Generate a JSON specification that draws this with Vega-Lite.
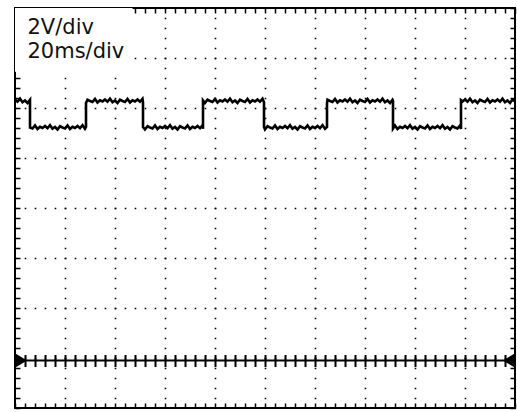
{
  "$schema": "https://vega.github.io/schema/vega-lite/v6.json",
  "width": 500,
  "height": 400,
  "autosize": {"type": "none"},
  "padding": {"left": 15, "top": 8, "right": 2, "bottom": 4},
  "background": "white",
  "config": {
    "view": {"stroke": "#000", "strokeWidth": 2},
    "axis": {"labels": false, "domain": false, "title": null, "tickColor": "#000", "tickWidth": 1.5, "tickCap": "butt", "zindex": 1}
  },
  "datasets": {
    "trace": [
      {"t":0,"v":10.44},{"t":1,"v":10.35},{"t":2,"v":10.47},{"t":3,"v":10.33},{"t":4,"v":10.40},{"t":5,"v":10.30},{"t":6,"v":10.43},
      {"t":6,"v":9.32},{"t":7,"v":9.28},{"t":8,"v":9.40},{"t":9,"v":9.26},{"t":10,"v":9.35},{"t":11,"v":9.30},{"t":12,"v":9.38},{"t":13,"v":9.29},{"t":14,"v":9.41},{"t":15,"v":9.27},{"t":16,"v":9.34},{"t":17,"v":9.24},{"t":18,"v":9.37},{"t":19,"v":9.32},{"t":20,"v":9.28},{"t":21,"v":9.40},{"t":22,"v":9.26},{"t":23,"v":9.35},{"t":24,"v":9.30},{"t":25,"v":9.38},{"t":26,"v":9.29},{"t":27,"v":9.41},{"t":28,"v":9.27},{"t":28.4,"v":9.34},
      {"t":28.4,"v":10.30},{"t":29,"v":10.43},{"t":30,"v":10.38},{"t":31,"v":10.34},{"t":32,"v":10.46},{"t":33,"v":10.32},{"t":34,"v":10.41},{"t":35,"v":10.36},{"t":36,"v":10.44},{"t":37,"v":10.35},{"t":38,"v":10.47},{"t":39,"v":10.33},{"t":40,"v":10.40},{"t":41,"v":10.30},{"t":42,"v":10.43},{"t":43,"v":10.38},{"t":44,"v":10.34},{"t":45,"v":10.46},{"t":46,"v":10.32},{"t":47,"v":10.41},{"t":48,"v":10.36},{"t":49,"v":10.44},{"t":50,"v":10.35},{"t":51,"v":10.47},{"t":51.2,"v":10.33},
      {"t":51.2,"v":9.34},{"t":52,"v":9.24},{"t":53,"v":9.37},{"t":54,"v":9.32},{"t":55,"v":9.28},{"t":56,"v":9.40},{"t":57,"v":9.26},{"t":58,"v":9.35},{"t":59,"v":9.30},{"t":60,"v":9.38},{"t":61,"v":9.29},{"t":62,"v":9.41},{"t":63,"v":9.27},{"t":64,"v":9.34},{"t":65,"v":9.24},{"t":66,"v":9.37},{"t":67,"v":9.32},{"t":68,"v":9.28},{"t":69,"v":9.40},{"t":70,"v":9.26},{"t":71,"v":9.35},{"t":72,"v":9.30},{"t":73,"v":9.38},{"t":74,"v":9.29},{"t":75,"v":9.41},{"t":75.2,"v":9.27},
      {"t":75.2,"v":10.40},{"t":76,"v":10.30},{"t":77,"v":10.43},{"t":78,"v":10.38},{"t":79,"v":10.34},{"t":80,"v":10.46},{"t":81,"v":10.32},{"t":82,"v":10.41},{"t":83,"v":10.36},{"t":84,"v":10.44},{"t":85,"v":10.35},{"t":86,"v":10.47},{"t":87,"v":10.33},{"t":88,"v":10.40},{"t":89,"v":10.30},{"t":90,"v":10.43},{"t":91,"v":10.38},{"t":92,"v":10.34},{"t":93,"v":10.46},{"t":94,"v":10.32},{"t":95,"v":10.41},{"t":96,"v":10.36},{"t":97,"v":10.44},{"t":98,"v":10.35},{"t":99,"v":10.47},{"t":99.6,"v":10.33},
      {"t":99.6,"v":9.34},{"t":100,"v":9.24},{"t":101,"v":9.37},{"t":102,"v":9.32},{"t":103,"v":9.28},{"t":104,"v":9.40},{"t":105,"v":9.26},{"t":106,"v":9.35},{"t":107,"v":9.30},{"t":108,"v":9.38},{"t":109,"v":9.29},{"t":110,"v":9.41},{"t":111,"v":9.27},{"t":112,"v":9.34},{"t":113,"v":9.24},{"t":114,"v":9.37},{"t":115,"v":9.32},{"t":116,"v":9.28},{"t":117,"v":9.40},{"t":118,"v":9.26},{"t":119,"v":9.35},{"t":120,"v":9.30},{"t":121,"v":9.38},{"t":122,"v":9.29},{"t":123,"v":9.41},{"t":124,"v":9.27},{"t":124.8,"v":9.34},
      {"t":124.8,"v":10.30},{"t":125,"v":10.43},{"t":126,"v":10.38},{"t":127,"v":10.34},{"t":128,"v":10.46},{"t":129,"v":10.32},{"t":130,"v":10.41},{"t":131,"v":10.36},{"t":132,"v":10.44},{"t":133,"v":10.35},{"t":134,"v":10.47},{"t":135,"v":10.33},{"t":136,"v":10.40},{"t":137,"v":10.30},{"t":138,"v":10.43},{"t":139,"v":10.38},{"t":140,"v":10.34},{"t":141,"v":10.46},{"t":142,"v":10.32},{"t":143,"v":10.41},{"t":144,"v":10.36},{"t":145,"v":10.44},{"t":146,"v":10.35},{"t":147,"v":10.47},{"t":148,"v":10.33},{"t":149,"v":10.40},{"t":150,"v":10.30},{"t":151,"v":10.43},{"t":151.2,"v":10.38},
      {"t":151.2,"v":9.28},{"t":152,"v":9.40},{"t":153,"v":9.26},{"t":154,"v":9.35},{"t":155,"v":9.30},{"t":156,"v":9.38},{"t":157,"v":9.29},{"t":158,"v":9.41},{"t":159,"v":9.27},{"t":160,"v":9.34},{"t":161,"v":9.24},{"t":162,"v":9.37},{"t":163,"v":9.32},{"t":164,"v":9.28},{"t":165,"v":9.40},{"t":166,"v":9.26},{"t":167,"v":9.35},{"t":168,"v":9.30},{"t":169,"v":9.38},{"t":170,"v":9.29},{"t":171,"v":9.41},{"t":172,"v":9.27},{"t":173,"v":9.34},{"t":174,"v":9.24},{"t":175,"v":9.37},{"t":176,"v":9.32},{"t":177,"v":9.28},{"t":178,"v":9.40},{"t":178.4,"v":9.26},
      {"t":178.4,"v":10.41},{"t":179,"v":10.36},{"t":180,"v":10.44},{"t":181,"v":10.35},{"t":182,"v":10.47},{"t":183,"v":10.33},{"t":184,"v":10.40},{"t":185,"v":10.30},{"t":186,"v":10.43},{"t":187,"v":10.38},{"t":188,"v":10.34},{"t":189,"v":10.46},{"t":190,"v":10.32},{"t":191,"v":10.41},{"t":192,"v":10.36},{"t":193,"v":10.44},{"t":194,"v":10.35},{"t":195,"v":10.47},{"t":196,"v":10.33},{"t":197,"v":10.40},{"t":198,"v":10.30},{"t":199,"v":10.43},{"t":200,"v":10.38}
    ]
  },
  "layer": [
    {
      "data": {"values": [{"t": 0, "t2": 47, "v": 11.55, "v2": 14.1}]},
      "mark": {"type": "rect", "fill": "white", "stroke": null},
      "encoding": {
        "x": {"field": "t", "type": "quantitative", "scale": {"domain": [0, 200], "nice": false, "zero": false},
              "axis": {"orient": "bottom", "grid": true, "ticks": false, "values": [20, 40, 60, 80, 100, 120, 140, 160, 180], "gridColor": "#000", "gridWidth": 1.6, "gridDash": [1.6, 8.4], "gridDashOffset": 0.8, "gridOpacity": 1}},
        "x2": {"field": "t2"},
        "y": {"field": "v", "type": "quantitative", "scale": {"domain": [-1.9, 14.1], "nice": false, "zero": false},
              "axis": {"orient": "left", "grid": true, "ticks": false, "values": [0.1, 2.1, 4.1, 6.1, 8.1, 10.1, 12.1], "gridColor": "#000", "gridWidth": 1.6, "gridDash": [1.6, 8.4], "gridDashOffset": 0.8, "gridOpacity": 1}},
        "y2": {"field": "v2"}
      }
    },
    {
      "data": {"name": "trace"},
      "mark": {"type": "line", "color": "#000", "strokeWidth": 2.6, "interpolate": "linear"},
      "encoding": {
        "x": {"field": "t", "type": "quantitative", "scale": {"domain": [0, 200], "nice": false, "zero": false},
              "axis": {"orient": "top", "offset": -400, "tickSize": 5, "values": [0,4,8,12,16,20,24,28,32,36,40,44,48,52,56,60,64,68,72,76,80,84,88,92,96,100,104,108,112,116,120,124,128,132,136,140,144,148,152,156,160,164,168,172,176,180,184,188,192,196,200]}},
        "y": {"field": "v", "type": "quantitative", "scale": {"domain": [-1.9, 14.1], "nice": false, "zero": false},
              "axis": {"orient": "right", "offset": -500, "tickSize": 5, "values": [-1.9,-1.5,-1.1,-0.7,-0.3,0.1,0.5,0.9,1.3,1.7,2.1,2.5,2.9,3.3,3.7,4.1,4.5,4.9,5.3,5.7,6.1,6.5,6.9,7.3,7.7,8.1,8.5,8.9,9.3,9.7,10.1,10.5,10.9,11.3,11.7,12.1,12.5,12.9,13.3,13.7,14.1]}}
      }
    },
    {
      "data": {"values": [{"t": 0, "t2": 200, "v": 0}]},
      "mark": {"type": "rule", "color": "#000", "strokeWidth": 2},
      "encoding": {
        "x": {"field": "t", "type": "quantitative", "scale": {"domain": [0, 200], "nice": false, "zero": false},
              "axis": {"orient": "bottom", "offset": -400, "tickSize": 5, "values": [0,4,8,12,16,20,24,28,32,36,40,44,48,52,56,60,64,68,72,76,80,84,88,92,96,100,104,108,112,116,120,124,128,132,136,140,144,148,152,156,160,164,168,172,176,180,184,188,192,196,200]}},
        "x2": {"field": "t2"},
        "y": {"field": "v", "type": "quantitative", "scale": {"domain": [-1.9, 14.1], "nice": false, "zero": false},
              "axis": {"orient": "left", "offset": -500, "tickSize": 5, "values": [-1.9,-1.5,-1.1,-0.7,-0.3,0.1,0.5,0.9,1.3,1.7,2.1,2.5,2.9,3.3,3.7,4.1,4.5,4.9,5.3,5.7,6.1,6.5,6.9,7.3,7.7,8.1,8.5,8.9,9.3,9.7,10.1,10.5,10.9,11.3,11.7,12.1,12.5,12.9,13.3,13.7,14.1]}}
      }
    },
    {
      "data": {"values": [{"t": 0, "v": 0}]},
      "mark": {"type": "point", "filled": true, "color": "#000", "opacity": 1, "size": 576, "shape": "M0,-0.6L1,0L0,0.6Z"},
      "encoding": {
        "x": {"field": "t", "type": "quantitative", "scale": {"domain": [0, 200], "nice": false, "zero": false},
              "axis": {"orient": "bottom", "offset": -47.5, "tickSize": 6, "tickWidth": 2, "values": [4,8,12,16,20,24,28,32,36,40,44,48,52,56,60,64,68,72,76,80,84,88,92,96,100,104,108,112,116,120,124,128,132,136,140,144,148,152,156,160,164,168,172,176,180,184,188,192,196]}},
        "y": {"field": "v", "type": "quantitative", "scale": {"domain": [-1.9, 14.1], "nice": false, "zero": false}, "axis": null}
      }
    },
    {
      "data": {"values": [{"t": 200, "v": 0}]},
      "mark": {"type": "point", "filled": true, "color": "#000", "opacity": 1, "size": 576, "shape": "M0,-0.6L-1,0L0,0.6Z"},
      "encoding": {
        "x": {"field": "t", "type": "quantitative", "scale": {"domain": [0, 200], "nice": false, "zero": false},
              "axis": {"orient": "top", "offset": -352.5, "tickSize": 6, "tickWidth": 2, "values": [4,8,12,16,20,24,28,32,36,40,44,48,52,56,60,64,68,72,76,80,84,88,92,96,100,104,108,112,116,120,124,128,132,136,140,144,148,152,156,160,164,168,172,176,180,184,188,192,196]}},
        "y": {"field": "v", "type": "quantitative", "scale": {"domain": [-1.9, 14.1], "nice": false, "zero": false}, "axis": null}
      }
    },
    {
      "data": {"values": [{"t": 5, "v": 13.06, "label": "2V/div"}, {"t": 5, "v": 12.12, "label": "20ms/div"}]},
      "mark": {"type": "text", "align": "left", "baseline": "alphabetic", "font": "DejaVu Sans", "fontSize": 21, "color": "#111"},
      "encoding": {
        "x": {"field": "t", "type": "quantitative", "scale": {"domain": [0, 200], "nice": false, "zero": false}, "axis": null},
        "y": {"field": "v", "type": "quantitative", "scale": {"domain": [-1.9, 14.1], "nice": false, "zero": false}, "axis": null},
        "text": {"field": "label"}
      }
    }
  ],
  "resolve": {"axis": {"x": "independent", "y": "independent"}}
}
